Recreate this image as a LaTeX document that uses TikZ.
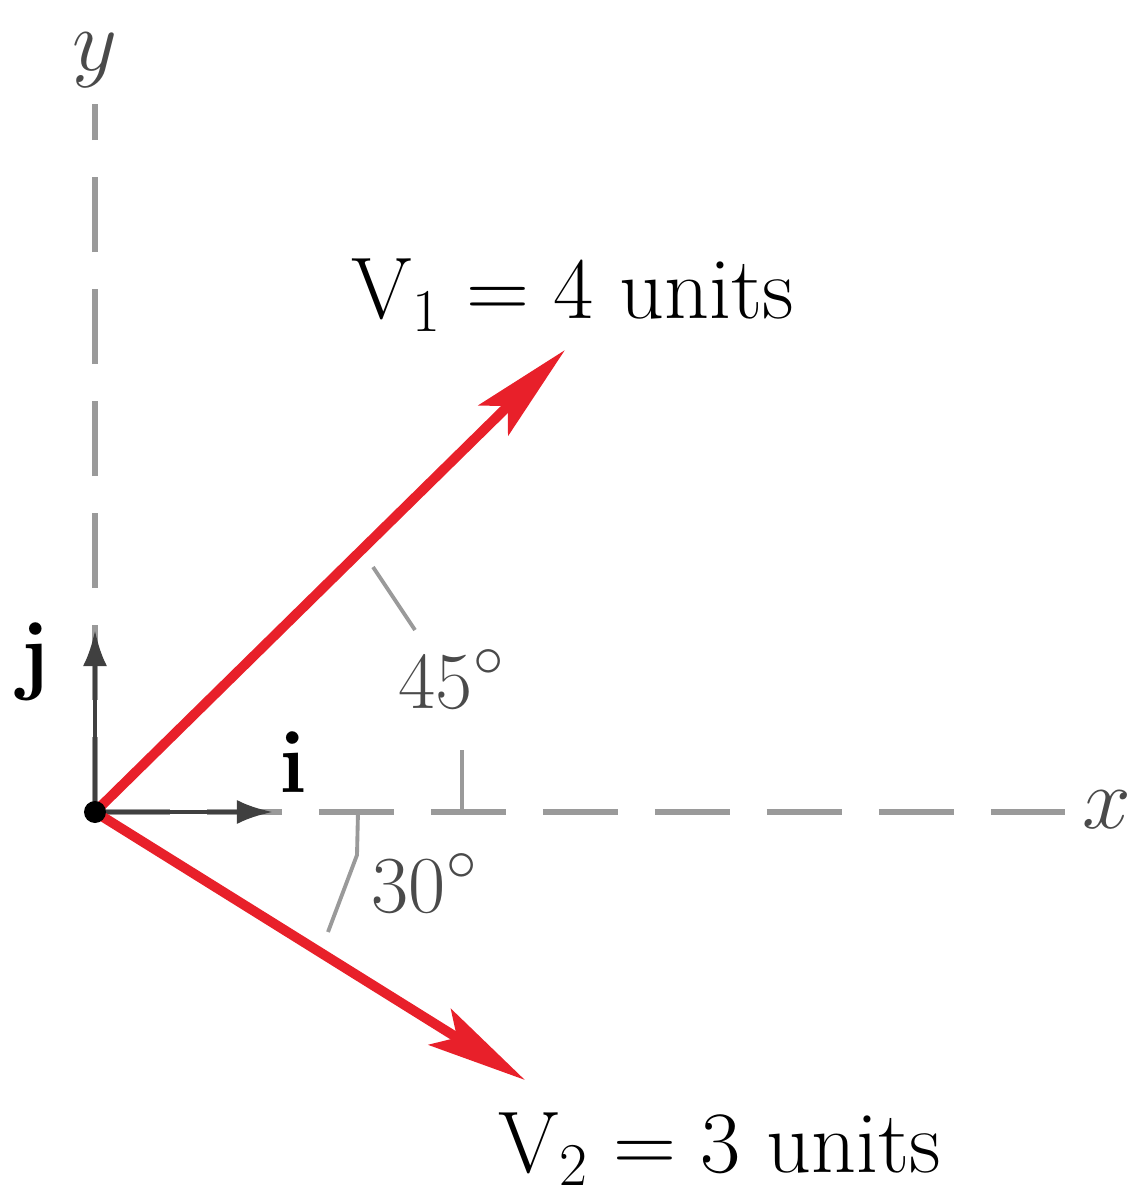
\documentclass[tikz,border=0pt]{standalone}
\usetikzlibrary{arrows.meta, calc}
\definecolor{vecRed}{HTML}{E8202A}
\definecolor{axisGray}{HTML}{9A9A9A}
\definecolor{labelGray}{HTML}{4A4A4A}
\tikzset{
  axis/.style={draw=axisGray, line width=1.6pt, dash pattern=on 0.75cm off 0.37cm},
  vec/.style={-{Stealth[length=1.0cm, width=0.42cm, inset=0.2cm]}, draw=vecRed, line width=2.8pt},
  unitvec/.style={-{Latex[length=0.36cm, width=0.24cm]}, draw=black!75, line width=1.4pt},
  anglemark/.style={draw=axisGray, line width=1.1pt},
  lbl/.style={font=\fontsize{25}{30}\selectfont, inner sep=1pt},
  anglbl/.style={font=\fontsize{23}{28}\selectfont, text=labelGray, inner sep=1pt},
  axlbl/.style={font=\fontsize{27}{30}\selectfont, text=labelGray, inner sep=1pt},
}

\begin{document}
\begin{tikzpicture}
\useasboundingbox (-0.95,-3.85) rectangle (10.37,8.12);

% origin and vector tips
\coordinate (O) at (0,0);
\coordinate (V1) at (4.7,4.62);
\coordinate (V2) at (4.3,-2.68);

% axes
\node[axlbl] (ylab) at (0,7.52) {$y$};
\node[axlbl] (xlab) at (10.12,0.02) {$x$};
\draw[axis] (O) -- (0,7.08);
\draw[axis] (O) -- (9.7,0);

% unit vectors
\draw[unitvec] (O) -- (0,1.82);
\draw[unitvec] (O) -- (1.78,0);
\node[font=\fontsize{27}{30}\selectfont, inner sep=1pt] (jlab) at (-0.6,1.5) {$\mathbf{j}$};
\node[font=\fontsize{27}{30}\selectfont, inner sep=1pt] (ilab) at (1.98,0.5) {$\mathbf{i}$};

% the two vectors
\draw[vec] (O) -- (V1);
\draw[vec] (O) -- (V2);
\fill[black] (O) circle (0.11);

\node[lbl] (v1lab) at (4.78,5.17) {$\mathrm{V}_1 = 4$ units};
\node[lbl] (v2lab) at (6.25,-3.37) {$\mathrm{V}_2 = 3$ units};

% angle marks
\draw[anglemark] (2.78,2.45) -- (3.2,1.82);
\draw[anglemark] (3.67,0.62) -- (3.67,0);
\node[anglbl] (a45) at (3.57,1.32) {45$^\circ$};
\draw[anglemark] (2.63,0) -- (2.62,-0.43) -- (2.33,-1.2);
\node[anglbl] (a30) at (3.3,-0.72) {30$^\circ$};

\end{tikzpicture}
\end{document}
